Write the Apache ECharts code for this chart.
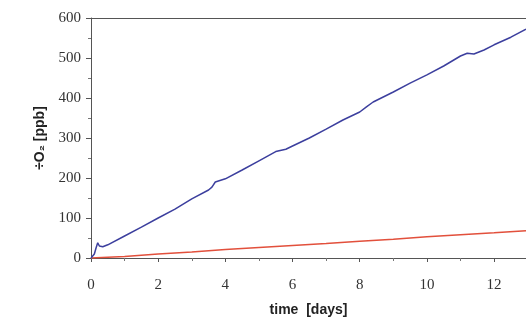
<!DOCTYPE html>
<html>
<head>
<meta charset="utf-8">
<script src="https://cdn.jsdelivr.net/npm/echarts@6/dist/echarts.min.js"></script>
<style>
  html, body { margin: 0; padding: 0; background: #fff; }
  #box { width: 526px; height: 322px; }
</style>
</head>
<body>
<div id="box"></div>
<script>
// blue trace (day, ppb)
var blueData = [
  [0, 0], [0.1, 10], [0.15, 25], [0.2, 38], [0.25, 30], [0.35, 28], [0.5, 33],
  [1, 55], [1.5, 77], [2, 100], [2.5, 122], [3, 148], [3.5, 170], [3.6, 177],
  [3.7, 190], [3.75, 185], [4, 198], [4.5, 220], [5, 243], [5.5, 266],
  [5.8, 272], [6, 280], [6.5, 300], [7, 322], [7.5, 345], [8, 365],
  [8.2, 378], [8.4, 390], [9, 415], [9.5, 437], [10, 458], [10.5, 480],
  [11, 505], [11.2, 512], [11.4, 510], [11.7, 520], [12, 533], [12.5, 552],
  [12.95, 572]
];
// red trace (day, ppb)
var redData = [
  [0, 0], [1, 4], [2, 10], [3, 15], [4, 21], [5, 26], [6, 31], [7, 36],
  [8, 42], [9, 47], [10, 53], [11, 58], [12, 63], [12.95, 68]
];

var chart = echarts.init(document.getElementById("box"));

var tickFont = {
  fontFamily: "Liberation Serif",
  fontSize: 15,
  color: "#333",
};

chart.setOption({
  backgroundColor: "#fff",
  animation: false,
  grid: { left: 91, right: 0, top: 18, bottom: 61 },
  xAxis: [
    {
      type: "value",
      min: 0,
      max: 12.95,
      interval: 2,
      name: "time  [days]",
      nameLocation: "middle",
      nameGap: 45,
      nameTextStyle: {
        fontFamily: "Liberation Sans",
        fontWeight: "bold",
        fontSize: 14,
        color: "#222",
      },
      axisLine: { lineStyle: { color: "#555", width: 1 } },
      axisTick: { length: 4, lineStyle: { color: "#555" } },
      minorTick: { show: true, splitNumber: 2, length: 3, lineStyle: { color: "#777" } },
      axisLabel: Object.assign({ margin: 20, showMaxLabel: false }, tickFont),
      splitLine: { show: false },
    },
    {
      // top border line
      type: "value",
      position: "top",
      min: 0,
      max: 12.95,
      axisLine: { lineStyle: { color: "#555", width: 1 } },
      axisTick: { show: false },
      axisLabel: { show: false },
      splitLine: { show: false },
    },
  ],
  yAxis: {
    type: "value",
    min: 0,
    max: 600,
    interval: 100,
    name: "÷O₂ [ppb]",
    nameLocation: "middle",
    nameGap: 44,
    nameTextStyle: {
      fontFamily: "Liberation Sans",
      fontWeight: "bold",
      fontSize: 14,
      color: "#222",
    },
    axisLine: { show: true, lineStyle: { color: "#555", width: 1 } },
    axisTick: { show: true, length: 5, lineStyle: { color: "#555" } },
    minorTick: { show: true, splitNumber: 2, length: 3, lineStyle: { color: "#777" } },
    axisLabel: Object.assign({ margin: 10 }, tickFont),
    splitLine: { show: false },
  },
  series: [
    {
      type: "line",
      data: redData,
      showSymbol: false,
      lineStyle: { color: "#e2503c", width: 1.5 },
    },
    {
      type: "line",
      data: blueData,
      showSymbol: false,
      lineStyle: { color: "#3c3f9e", width: 1.5 },
    },
  ],
});
</script>
</body>
</html>
